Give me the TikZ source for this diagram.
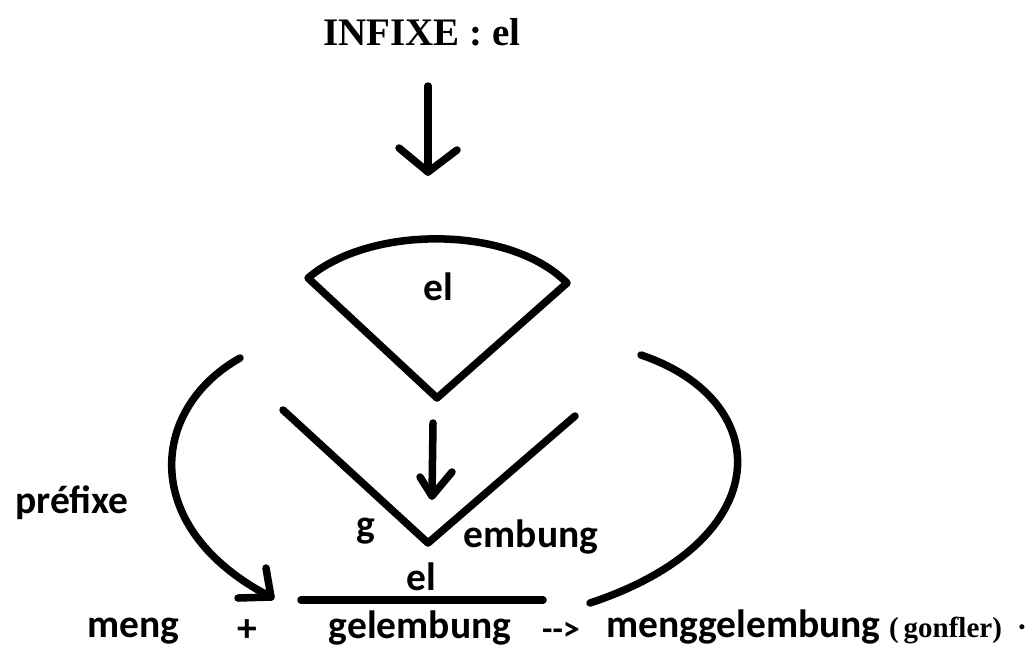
\documentclass[tikz,border=0pt]{standalone}
\usepackage{fontspec}
\setmainfont{Liberation Serif}
\newfontfamily\carlitofont{Carlito}
\tikzset{
  ink/.style={line width=7.5pt, line cap=round, line join=round},
  lbl/.style={font=\carlitofont\bfseries\fontsize{39.5}{41}\selectfont, anchor=base, inner sep=0pt},
  ser/.style={font=\bfseries\fontsize{39}{41}\selectfont, anchor=base, inner sep=0pt},
}
\begin{document}
\begin{tikzpicture}[x=1pt,y=-1pt]
\useasboundingbox (0,0) rectangle (1032,649);
% title
\node[ser] (title) at (422,45) {INFIXE : el};
\coordinate (a1) at (428,86);
\coordinate (a2) at (428,172);
\draw[ink] (a1) -- (a2);
\draw[ink] (399,148) -- (a2) -- (457,150);
% sector
\coordinate (sl) at (308,278);
\coordinate (sr) at (567,283);
\coordinate (st) at (437,398);
\draw[ink] (sl) .. controls (370,225) and (510,225) .. (sr) -- (st) -- cycle;
\node[lbl] (elA) at (438,300) {el};
% V shape
\coordinate (vl) at (283,410);
\coordinate (vt) at (428,543);
\coordinate (vr) at (575,416);
\draw[ink] (vl) -- (vt) -- (vr);
\coordinate (b1) at (433,423);
\coordinate (b2) at (432,496);
\draw[ink] (b1) -- (b2);
\draw[ink] (420,477) -- (b2) -- (452,472);
\node[lbl] (g) at (366,537) {g};
\node[lbl] (emb) at (531,547) {embung};
% fraction line
\node[lbl] (elB) at (421,590) {el};
\coordinate (h1) at (301,600);
\coordinate (h2) at (543,600);
\draw[ink] (h1) -- (h2);
\node[lbl] (gel) at (420,638) {gelembung};
% left curve arrow
\coordinate (c1) at (240,358);
\coordinate (c2) at (271,597);
\draw[ink] (c1) .. controls (148,410) and (140,530) .. (c2);
\draw[ink] (266,568) -- (c2) -- (238,598);
% right curve
\coordinate (r1) at (641,355);
\coordinate (r2) at (590,603);
\draw[ink] (r1) .. controls (775,400) and (780,540) .. (r2);
% labels
\node[lbl] (pref) at (72,513) {préfixe};
\node[lbl] (meng) at (133,637) {meng};
\node[lbl] (plus) at (247,641) {+};
\node[font=\carlitofont\bfseries\fontsize{34}{36}\selectfont, anchor=base, inner sep=0pt] (arr) at (561,640) {-{}->};
\node[lbl, anchor=base west] (mg) at (606,637) {menggelembung};
\node[font=\bfseries\fontsize{29}{31}\selectfont, anchor=base west, inner sep=0pt] (gon) at (889,637) {(\,gonfler)};
\node[font=\bfseries\fontsize{31}{33}\selectfont, anchor=base, inner sep=0pt] (dot) at (1022,637) {·};
\end{tikzpicture}
\end{document}
